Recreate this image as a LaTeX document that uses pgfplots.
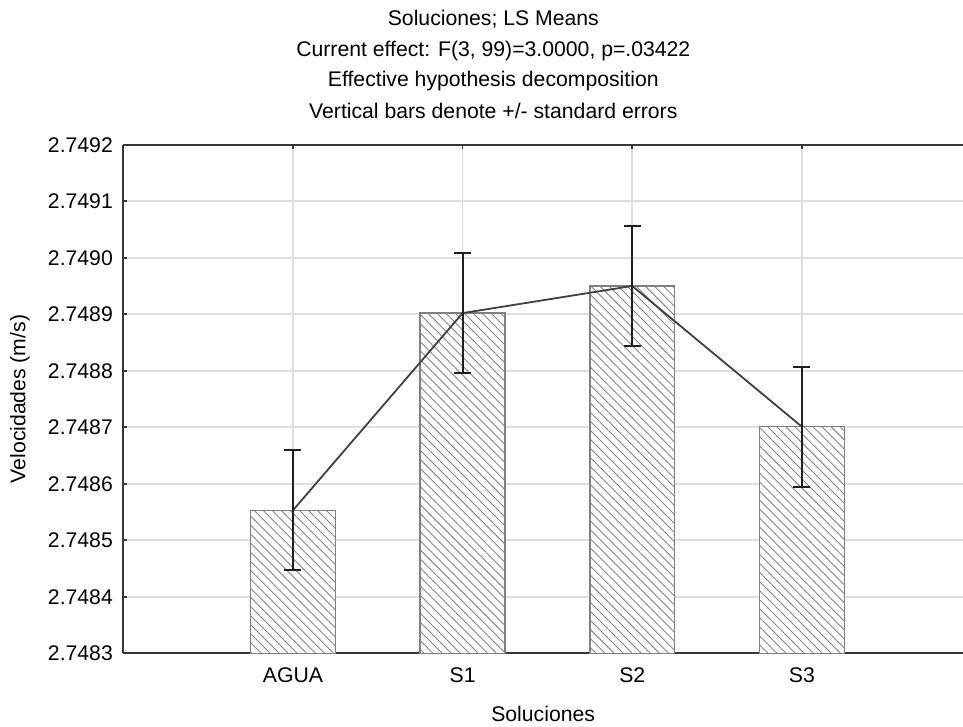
\documentclass[border=0pt]{standalone}
\usepackage{pgfplots}
\pgfplotsset{compat=1.18}
\usetikzlibrary{patterns.meta}
\usepackage{fontspec}
\setmainfont{Liberation Sans}

% LS means of the velocity per solution, stored as offsets from 2.7483 m/s
% in units of 0.0001 m/s; err = standard error in the same units.
\pgfplotstableread{
x  mean  err
1  2.53  1.06
2  6.02  1.06
3  6.50  1.06
4  4.01  1.06
}\means

\begin{document}
\fontsize{10.6pt}{12.7pt}\selectfont
\begin{tikzpicture}
\useasboundingbox (-61.65pt,-36.85pt) rectangle (419.85pt,326.65pt);
\begin{axis}[
  scale only axis,
  width=419.85pt, height=254.3pt,
  xmin=0, xmax=4.95, ymin=0, ymax=9,
  axis y line*=left, axis x line*=box,
  axis line style={black!78, line width=1pt},
  xtick={1,2,3,4}, xticklabels={AGUA,S1,S2,S3},
  ytick={0,1,2,3,4,5,6,7,8,9},
  yticklabels={2.7483,2.7484,2.7485,2.7486,2.7487,2.7488,2.7489,2.7490,2.7491,2.7492},
  /pgf/number format/assume math mode=true,
  tick align=inside, major tick length=2pt,
  tick style={black!78, line width=0.8pt},
  grid=major, major grid style={draw=black!13, line width=0.8pt},
  yticklabel style={xshift=-1.5pt},
  xticklabel style={yshift=-3.5pt},
  xlabel={Soluciones}, ylabel={Velocidades (m/s)},
  every axis x label/.style={at={(axis description cs:0.5,0)}, anchor=center, yshift=-30.35pt},
  every axis y label/.style={at={(axis description cs:0,0.5)}, rotate=90, anchor=center, yshift=51.65pt},
]
% hatched bars
\addplot[ybar, bar width=0.5, draw=black!50, line width=0.7pt, fill=white,
  postaction={pattern={Lines[angle=-45, distance=3.2pt, line width=0.45pt]},
              pattern color=black!48}]
  table[x=x, y=mean] {\means};
% line through the means with +/- standard error bars
\addplot[color=black!75, line width=0.9pt, mark=none,
  error bars/.cd, y dir=both, y explicit,
  error bar style={black!88, line width=1pt},
  error mark options={rotate=90, mark size=4.25pt, black!88, line width=1pt}]
  table[x=x, y=mean, y error=err] {\means};
\end{axis}
\node[anchor=base] at (185pt,313.85pt) {Soluciones; LS Means};
\node[anchor=base] at (185pt,298.6pt) {Current effect: F(3, 99)=3.0000, p=.03422};
\node[anchor=base] at (185pt,283.35pt) {Effective hypothesis decomposition};
\node[anchor=base] at (185pt,267.5pt) {Vertical bars denote +/- standard errors};
\end{tikzpicture}
\end{document}
